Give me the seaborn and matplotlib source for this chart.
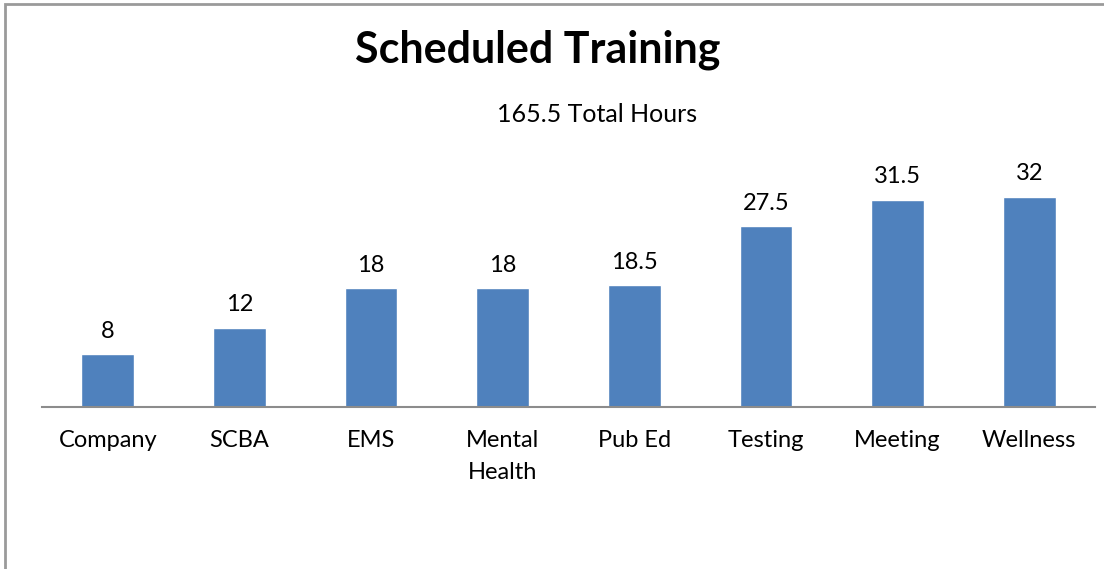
import matplotlib
matplotlib.use("Agg")
import matplotlib.pyplot as plt
import seaborn as sns
import pandas as pd
from matplotlib.patches import Rectangle

# chart data
categories = ["Company", "SCBA", "EMS", "Mental\nHealth", "Pub Ed", "Testing", "Meeting", "Wellness"]
hours = [8, 12, 18, 18, 18.5, 27.5, 31.5, 32]
value_labels = ["8", "12", "18", "18", "18.5", "27.5", "31.5", "32"]
title_text = "Scheduled Training"
subtitle_text = "165.5 Total Hours"

df = pd.DataFrame({"category": categories, "hours": hours})

sns.set_style("white")
plt.rcParams["font.family"] = ["Lato", "DejaVu Sans"]

fig = plt.figure(figsize=(11.04, 5.69), dpi=100)
ax = fig.add_axes([42 / 1104, 1 - 406.5 / 569, (1095 - 42) / 1104, (406.5 - 144) / 569])

sns.barplot(data=df, x="category", y="hours", color="#4F81BD", saturation=1,
            width=0.40, ax=ax)
ax.set_ylim(0, 40)
ax.set_xlim(-0.5, len(categories) - 0.5)

ax.bar_label(ax.containers[0], labels=value_labels, padding=9, fontsize=17, color="black")

for side in ["top", "right", "left"]:
    ax.spines[side].set_visible(False)
ax.spines["bottom"].set_color("#8c8c8c")
ax.spines["bottom"].set_linewidth(1.5)
ax.set_yticks([])
ax.set_xlabel("")
ax.set_ylabel("")
ax.tick_params(axis="x", length=0, pad=17, labelsize=17, labelcolor="black")
for lbl in ax.get_xticklabels():
    lbl.set_linespacing(1.65)

fig.text(537.5 / 1104, 1 - 50 / 569, title_text, ha="center", va="center",
         fontsize=31, fontweight="bold", color="black")
fig.text(597 / 1104, 1 - 115 / 569, subtitle_text, ha="center", va="center",
         fontsize=18, color="black")

# outer chart frame (only left and top edges are visible)
fig.patches.append(Rectangle((5 / 1104, -0.1), 1.2, 0.1 + 1 - 4 / 569, transform=fig.transFigure,
                             fill=False, edgecolor="#9a9a9a", linewidth=2))

fig.savefig("out.png", dpi=100)
